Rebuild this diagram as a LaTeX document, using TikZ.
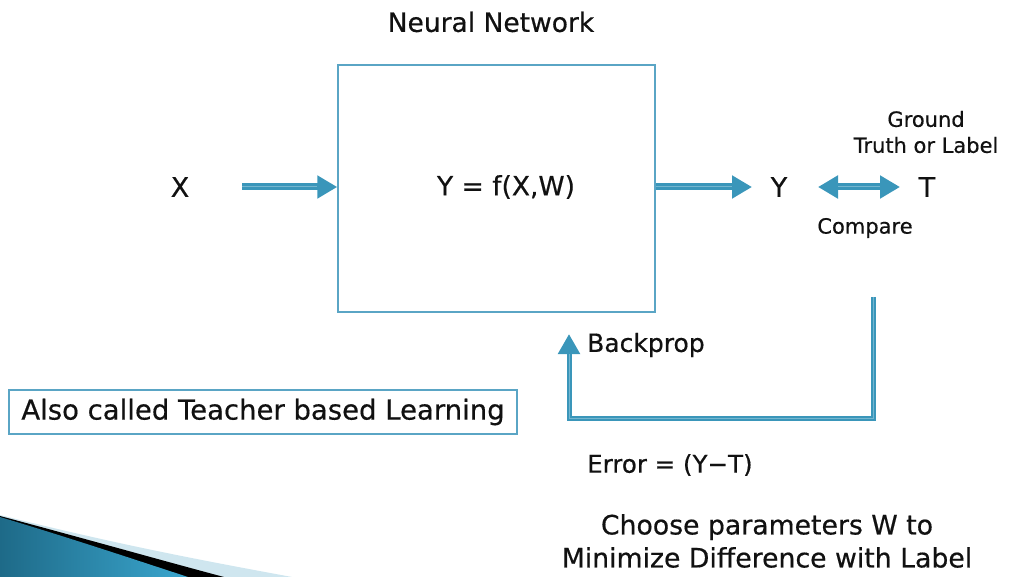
\documentclass[tikz,border=0pt]{standalone}
\usepackage{fontspec}
\setmainfont{DejaVu Sans}[FakeBold=0.5]
\usetikzlibrary{arrows.meta}
\definecolor{arrowblue}{HTML}{3A96BA}
\definecolor{stripe}{HTML}{74B6D0}
\definecolor{boxblue}{HTML}{5AA5C5}
\definecolor{wedgedark}{HTML}{1E6A88}
\definecolor{wedgelight}{HTML}{3AA6CE}
\definecolor{wedgepale}{HTML}{CFE6EF}
\definecolor{txt}{HTML}{111111}
\tikzset{
  lbl/.style={text=txt, inner sep=0pt, font=\fontsize{27}{32}\selectfont},
  small/.style={text=txt, inner sep=0pt, font=\fontsize{21}{26}\selectfont, align=center},
  mid/.style={text=txt, inner sep=0pt, font=\fontsize{25}{30}\selectfont},
  fwd/.style={draw=arrowblue, line width=7pt, -{Triangle[length=20pt,width=22pt]}},
  both/.style={draw=arrowblue, line width=7pt, {Triangle[length=20pt,width=22pt]}-{Triangle[length=20pt,width=22pt]}},
  back/.style={draw=arrowblue, line width=5pt, -{Triangle[length=20pt,width=21pt]}},
  shine/.style={draw=stripe, line width=1pt},
  nnbox/.style={draw=boxblue, line width=1.5pt, minimum width=317pt, minimum height=247pt, inner sep=0pt},
  notebox/.style={draw=boxblue, line width=1.3pt, minimum width=508pt, minimum height=44pt, inner sep=0pt, text=txt, font=\fontsize{28}{32}\selectfont}
}
\begin{document}
\begin{tikzpicture}[x=1pt,y=-1pt]
\useasboundingbox (0,0) rectangle (1020,577);
% decorative wedge bottom-left
\fill[wedgepale] (0,515) .. controls (120,545) and (200,560) .. (292,577) -- (0,577) -- cycle;
\fill[black] (0,516) .. controls (90,540) and (160,560) .. (224,577) -- (0,577) -- cycle;
\shade[left color=wedgedark, right color=wedgelight] (0,517) .. controls (70,538) and (130,558) .. (188,577) -- (0,577) -- cycle;

\node[lbl, font=\fontsize{26.5}{30}\selectfont] (nnlabel) at (491,22) {Neural Network};
\node[nnbox] (nn) at (496.5,188.5) {};
\node[lbl, font=\fontsize{26.5}{30}\selectfont] (f) at (506,187) {Y = f(X,W)};
\node[lbl] (x) at (180,187) {X};
\node[lbl] (y) at (779,187) {Y};
\node[lbl] (t) at (927,187) {T};
\node[small] (gt) at (926,132) {Ground\\Truth or Label};
\node[small] (cmp) at (865,228) {Compare};
\node[mid, anchor=west] (bp) at (587,345) {Backprop};
\node[mid, font=\fontsize{24.5}{28}\selectfont, anchor=west] (err) at (587,465) {Error = (Y−T)};
\node[lbl, font=\fontsize{26.7}{33}\selectfont, align=center] (choose) at (767,541) {Choose parameters W to\\Minimize Difference with Label};
\node[notebox, font=\fontsize{27.5}{32}\selectfont] (note) at (263,412) {Also called Teacher based Learning};

\coordinate (xs) at (242,187);
\coordinate (ye) at (752,187);
\coordinate (cl) at (818,187);
\coordinate (cr) at (900,187);
\coordinate (fbtop) at (873,297);
\coordinate (fbcorner) at (569,418);
\coordinate (fbend) at (569,334);

\draw[fwd] (xs) -- (nn.west |- xs);
\draw[shine] (xs) -- ([xshift=-20pt]nn.west |- xs);
\draw[fwd] (nn.east |- ye) -- (ye);
\draw[shine] (nn.east |- ye) -- ([xshift=-20pt]ye);
\draw[both] (cl) -- (cr);
\draw[shine] ([xshift=20pt]cl) -- ([xshift=-20pt]cr);
\draw[back, line join=miter] (fbtop) |- (fbcorner) -- (fbend);
\draw[shine, line width=0.8pt] (fbtop) |- (fbcorner) -- ([yshift=-20pt]fbend);
\end{tikzpicture}
\end{document}
